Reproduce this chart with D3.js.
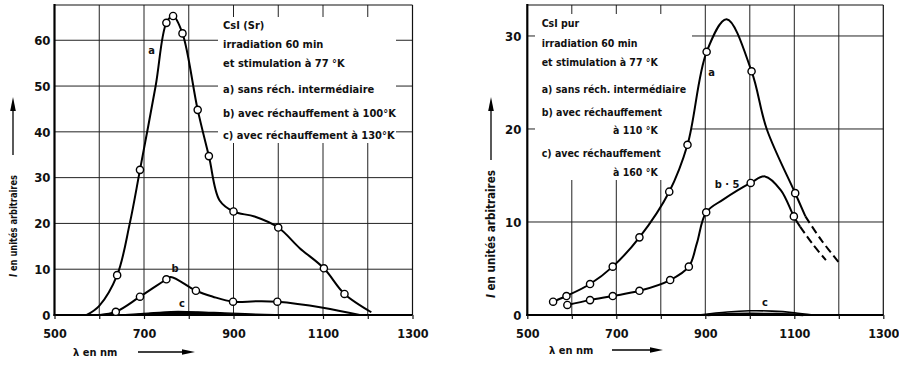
<!DOCTYPE html>
<html><head><meta charset="utf-8">
<script src="https://cdn.jsdelivr.net/npm/d3@7"></script>
<style>
body{margin:0;background:#fff}
svg{display:block}
text{font-family:"DejaVu Sans Condensed","DejaVu Sans",sans-serif;fill:#111}
</style></head><body>
<svg id="c" width="899" height="365"></svg>
<script>
// ---------- data ----------
const xTickLabels = [500, 700, 900, 1100, 1300];
const xGridValues = [600, 700, 800, 900, 1000, 1100, 1200];
const xMinorTicks = [500, 600, 700, 800, 900, 1000, 1100, 1200, 1300];
const leftYTicks = [0, 10, 20, 30, 40, 50, 60];
const rightYTicks = [0, 10, 20, 30];

// Left panel: CsI (Sr)
const leftA_trace = [[572,0],[600,2],[640,8.7],[668,19.9],[691,31.7],[726,50],[750,63.8],[765,65.3],[786,61.5],[820,44.8],[845,34.7],[869,25],[900,22.6],[947,21.5],[1000,19.1],[1048,14.6],[1102,10.2],[1148,4.6],[1208,0.6]];
const leftA_markers = [[640,8.7],[691,31.7],[750,63.8],[765,65.3],[786,61.5],[820,44.8],[845,34.7],[900,22.6],[1000,19.1],[1102,10.2],[1148,4.6]];
const leftB_trace = [[601,0],[637,0.7],[691,4.0],[750,7.8],[760,8.3],[816,5.3],[854,4.0],[899,2.9],[950,3.0],[998,2.9],[1100,1.6],[1182,0]];
const leftB_markers = [[637,0.7],[691,4.0],[750,7.8],[816,5.3],[899,2.9],[998,2.9]];
const leftC_upper = [[640,0],[700,0.35],[760,0.75],[820,0.7],[880,0.45],[950,0.2],[1050,0.05],[1180,0]];

// Right panel: CsI pur
const rightA_trace = [[558,1.43],[588,2.04],[641,3.33],[692,5.2],[752,8.35],[819,13.26],[860,18.3],[903,28.3],[948,31.8],[1004,26.2],[1038,20],[1102,13.1],[1125,10.6]];
const rightA_dashed = [[1125,10.6],[1160,8.1],[1201,5.6]];
const rightA_markers = [[558,1.43],[588,2.04],[641,3.33],[692,5.2],[752,8.35],[819,13.26],[860,18.3],[903,28.3],[1004,26.2],[1102,13.1]];
const rightB_trace = [[590,1.08],[641,1.6],[692,2.04],[752,2.6],[821,3.76],[863,5.2],[881,7.7],[902,11.04],[940,12.4],[1002,14.2],[1034,14.9],[1070,13.4],[1099,10.6],[1113,9.5]];
const rightB_dashed = [[1113,9.5],[1140,7.7],[1171,5.9]];
const rightB_markers = [[590,1.08],[641,1.6],[692,2.04],[752,2.6],[821,3.76],[863,5.2],[902,11.04],[1002,14.2],[1099,10.6]];
const rightC_upper = [[885,0],[950,0.33],[1000,0.45],[1050,0.42],[1100,0.25],[1142,0]];
const rightC_lower = [[905,0],[960,0.1],[1000,0.13],[1060,0.1],[1120,0]];

const leftLegend = ["CsI (Sr)", "irradiation 60 min", "et stimulation à 77 °K", "a) sans réch. intermédiaire", "b) avec réchauffement à 100°K", "c) avec réchauffement à 130°K"];
const rightLegend = ["CsI pur", "irradiation 60 min", "et stimulation à 77 °K", "a) sans réch. intermédiaire", "b) avec réchauffement", "à 110 °K", "c) avec réchauffement", "à 160 °K"];
const yTitle = "en unités arbitraires";
const xTitle = "λ en nm";

// ---------- drawing ----------
const svg = d3.select("#c");

function panel(cfg) {
  const x = d3.scaleLinear().domain([500, 1300]).range(cfg.xr);
  const y = d3.scaleLinear().domain([0, cfg.ymax]).range([315, 5]);
  const g = svg.append("g");
  const [xl, xr] = cfg.xr, yb = 315, yt = 5;

  g.selectAll(".hg").data(cfg.yTicks.filter(d => d > 0)).join("line")
    .attr("x1", xl).attr("x2", xr).attr("y1", d => y(d)).attr("y2", d => y(d))
    .attr("stroke", "#222").attr("stroke-width", 1);
  g.selectAll(".vg").data(xGridValues).join("line")
    .attr("x1", d => x(d)).attr("x2", d => x(d)).attr("y1", yt).attr("y2", yb)
    .attr("stroke", "#222").attr("stroke-width", 1);

  g.append("rect").attr("x", cfg.box[0]).attr("y", cfg.box[1]).attr("width", cfg.box[2]).attr("height", cfg.box[3]).attr("fill", "#fff");

  g.append("line").attr("x1", xr).attr("x2", xr).attr("y1", yt).attr("y2", yb).attr("stroke", "#111").attr("stroke-width", 1.2);
  g.append("line").attr("x1", xl).attr("x2", xr).attr("y1", yt).attr("y2", yt).attr("stroke", "#111").attr("stroke-width", 1.2);
  g.append("line").attr("x1", xl).attr("x2", xl).attr("y1", yt - 1).attr("y2", yb + 1).attr("stroke", "#000").attr("stroke-width", 2.2);
  g.append("line").attr("x1", xl - 1).attr("x2", xr).attr("y1", yb).attr("y2", yb).attr("stroke", "#000").attr("stroke-width", 2.2);

  const xAxis = d3.axisBottom(x).tickValues(xMinorTicks).tickSize(4).tickFormat(d => xTickLabels.includes(d) ? d : "");
  const ax = g.append("g").attr("transform", `translate(0,${yb})`).call(xAxis);
  ax.select(".domain").remove();
  ax.selectAll("line").attr("stroke", "#111").attr("stroke-width", 1.2);
  ax.selectAll("text").attr("dy", null).attr("y", 23).attr("font-size", 12.5).attr("font-weight", "bold")
    .attr("font-family", '"DejaVu Sans Condensed","DejaVu Sans",sans-serif').attr("fill", "#111");
  const yAxis = d3.axisLeft(y).tickValues(cfg.yTicks).tickSize(0).tickPadding(cfg.ypad);
  const ay = g.append("g").attr("transform", `translate(${xl},0)`).call(yAxis);
  ay.select(".domain").remove();
  ay.selectAll("text").attr("font-size", 13).attr("font-weight", "bold")
    .attr("font-family", '"DejaVu Sans Condensed","DejaVu Sans",sans-serif').attr("fill", "#111");

  const line = d3.line().x(d => x(d[0])).y(d => y(d[1])).curve(d3.curveCatmullRom.alpha(0.5));
  const area = d3.area().x(d => x(d[0])).y0(y(0)).y1(d => y(d[1])).curve(d3.curveCatmullRom.alpha(0.5));
  return {g, x, y, line, area};
}

function drawCurve(p, trace, opts = {}) {
  p.g.append("path").attr("d", p.line(trace)).attr("fill", "none").attr("stroke", "#000")
    .attr("stroke-width", opts.w || 2).attr("stroke-dasharray", opts.dash || null)
    .attr("stroke-linejoin", "round");
}
function drawMarkers(p, pts) {
  p.g.selectAll(null).data(pts).join("circle")
    .attr("cx", d => p.x(d[0])).attr("cy", d => p.y(d[1])).attr("r", 3.6)
    .attr("fill", "#fff").attr("stroke", "#000").attr("stroke-width", 1.4);
}
function label(g, x, y, t, size, opts = {}) {
  return g.append("text").attr("x", x).attr("y", y).attr("font-size", size)
    .attr("font-weight", opts.bold ? "bold" : "normal").attr("text-anchor", opts.anchor || "start").text(t);
}

// Left panel
const L = panel({xr: [54.5, 412.5], ymax: 67.7, yTicks: leftYTicks, ypad: 4, box: [218, 17, 178, 126]});
L.g.append("path").attr("d", L.area(leftC_upper)).attr("fill", "#000").attr("stroke", "#000").attr("stroke-width", 1.2);
drawCurve(L, leftA_trace);
drawCurve(L, leftB_trace);
drawMarkers(L, leftA_markers);
drawMarkers(L, leftB_markers);
label(L.g, 151.7, 54, "a", 11, {anchor: "middle", bold: true});
label(L.g, 175, 272, "b", 11, {anchor: "middle", bold: true});
label(L.g, 182, 307, "c", 11, {anchor: "middle", bold: true});
const leftLegY = [29, 47.5, 66.5, 93, 116.5, 139];
leftLegend.forEach((t, i) => label(L.g, 223, leftLegY[i], t, 11, {bold: true}));

// Right panel
const R = panel({xr: [527.3, 883.3], ymax: 33.33, yTicks: rightYTicks, ypad: 6, box: [535, 14, 157, 166]});
R.g.append("path").attr("d", R.line(rightC_upper)).attr("fill", "none").attr("stroke", "#000").attr("stroke-width", 1.6);
R.g.append("path").attr("d", R.line(rightC_lower)).attr("fill", "none").attr("stroke", "#000").attr("stroke-width", 2.4);
drawCurve(R, rightA_trace);
drawCurve(R, rightA_dashed, {dash: "8,4"});
drawCurve(R, rightB_trace);
drawCurve(R, rightB_dashed, {dash: "8,4"});
drawMarkers(R, rightA_markers);
drawMarkers(R, rightB_markers);
label(R.g, 711.7, 75.5, "a", 11, {anchor: "middle", bold: true});
label(R.g, 727, 187.5, "b · 5", 11, {anchor: "middle", bold: true});
label(R.g, 765, 305.5, "c", 11, {anchor: "middle", bold: true});
const rightLegPos = [[541.7,27.3],[541.7,46.7],[541.7,65.7],[541.7,93.3],[541.7,115.7],[613,134],[541.7,157.3],[613,175.7]];
rightLegend.forEach((t, i) => label(R.g, rightLegPos[i][0], rightLegPos[i][1], t, 10.5, {bold: true}));

function yTitleAt(cx, cy, len, size) {
  const t = svg.append("text").attr("transform", `translate(${cx},${cy}) rotate(-90)`)
    .attr("text-anchor", "middle").attr("dy", "0.35em").attr("font-size", size).attr("font-weight", "bold")
    .attr("textLength", len).attr("lengthAdjust", "spacingAndGlyphs");
  t.append("tspan").attr("font-style", "italic").text("I ");
  t.append("tspan").text(yTitle);
}
yTitleAt(13, 226, 102, 11);
yTitleAt(491, 234, 128, 12);

function arrowUp(x, y0, y1) {
  svg.append("line").attr("x1", x).attr("x2", x).attr("y1", y0).attr("y2", y1 + 10).attr("stroke", "#000").attr("stroke-width", 1.3);
  svg.append("path").attr("d", `M${x},${y1} L${x - 2.8},${y1 + 14} L${x + 2.8},${y1 + 14} Z`).attr("fill", "#000");
}
function arrowRight(x0, x1, y) {
  svg.append("line").attr("x1", x0).attr("x2", x1 - 10).attr("y1", y).attr("y2", y).attr("stroke", "#000").attr("stroke-width", 1.3);
  svg.append("path").attr("d", `M${x1},${y} L${x1 - 13},${y - 2.8} L${x1 - 13},${y + 2.8} Z`).attr("fill", "#000");
}
arrowUp(13, 155, 97);
arrowUp(491, 160, 97);
arrowRight(138, 195, 352);
arrowRight(612, 663, 350);
label(svg, 73, 356, xTitle, 11, {bold: true});
label(svg, 549, 354, xTitle, 11, {bold: true});
</script>
</body></html>
